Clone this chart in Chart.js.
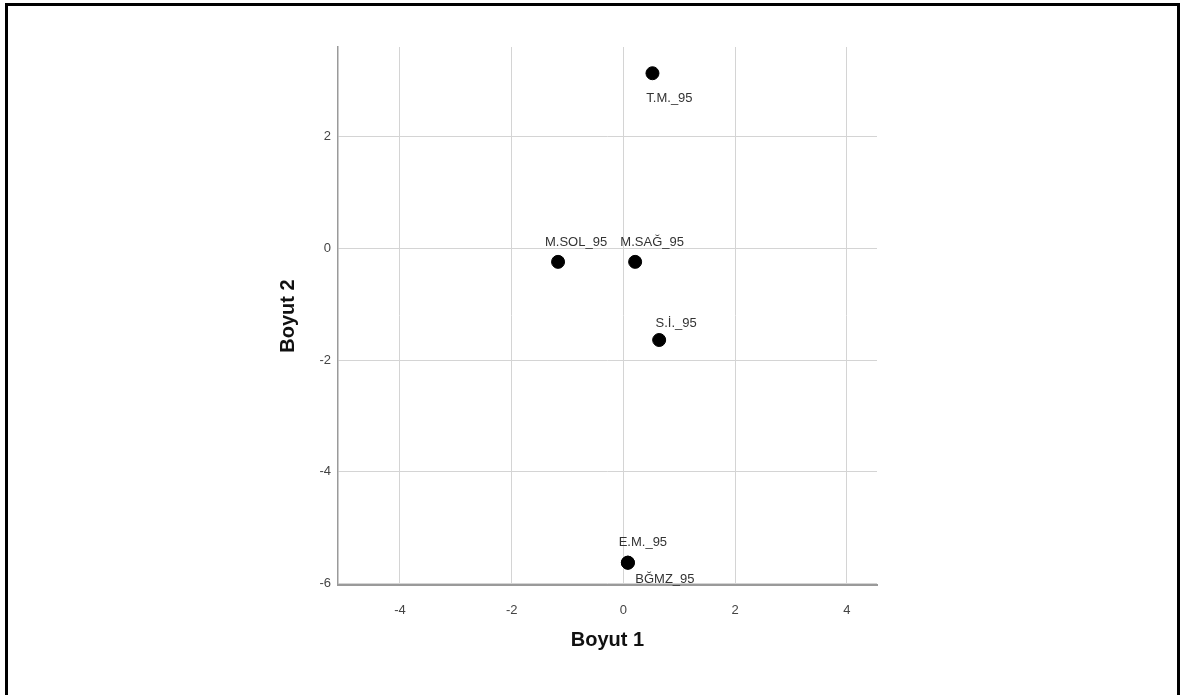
<!DOCTYPE html>
<html>
<head>
<meta charset="utf-8">
<script src="https://cdn.jsdelivr.net/npm/chart.js@4"></script>
<style>
  html, body { margin: 0; padding: 0; background: #fff; }
  #wrap { position: relative; width: 1180px; height: 695px; overflow: hidden; }
  #frame {
    position: absolute; left: 5px; top: 3px; width: 1169px; height: 720px;
    border: 3px solid #000;
  }
  canvas { position: absolute; left: 0; top: 0; }
</style>
</head>
<body>
<div id="wrap">
  <div id="frame"></div>
  <canvas id="c" width="1180" height="695"></canvas>
</div>
<script>
// ===== data =====
const names = ['T.M._95', 'M.SOL_95', 'M.SAĞ_95', 'S.İ._95', 'E.M._95', 'BĞMZ_95'];
const dim1  = [0.52, -1.17, 0.21, 0.64, 0.08, 0.08];
const dim2  = [3.14, -0.24, -0.24, -1.64, -5.63, -5.63];
const xTicks = [-4, -2, 0, 2, 4];
const yTicks = [2, 0, -2, -4, -6];

// label placement relative to the point (px)
const labelOffsets = [[17, 25], [18, -19], [17, -19], [17, -17], [15, -20], [37, 17]];

const pointLabels = {
  id: 'pointLabels',
  afterDatasetsDraw(chart) {
    const ctx = chart.ctx;
    const meta = chart.getDatasetMeta(0);
    ctx.save();
    ctx.font = '13px "Liberation Sans", Arial, sans-serif';
    ctx.fillStyle = '#333';
    ctx.textAlign = 'center';
    ctx.textBaseline = 'middle';
    meta.data.forEach((pt, i) => {
      const [dx, dy] = labelOffsets[i];
      ctx.fillText(names[i], pt.x + dx, pt.y + dy);
    });
    ctx.restore();
  }
};

new Chart(document.getElementById('c'), {
  type: 'scatter',
  data: {
    datasets: [{
      data: dim1.map((x, i) => ({ x, y: dim2[i] })),
      backgroundColor: '#000',
      borderColor: '#000',
      pointRadius: 6.5,
      pointHoverRadius: 6.5
    }]
  },
  options: {
    responsive: false,
    animation: false,
    layout: { padding: { left: 0, top: 47, right: 303, bottom: 0 } },
    plugins: { legend: { display: false }, tooltip: { enabled: false } },
    scales: {
      x: {
        type: 'linear',
        min: -5.11, max: 4.54,
        afterBuildTicks: s => { s.ticks = xTicks.map(v => ({ value: v })); },
        afterFit: s => { s.height = 110; },
        grid: { color: '#d4d4d4', lineWidth: 1, drawTicks: false },
        border: { color: '#9a9a9a', width: 2 },
        ticks: {
          padding: 18,
          color: '#444',
          font: { family: '"Liberation Sans", Arial, sans-serif', size: 13 }
        },
        title: {
          display: true, text: 'Boyut 1', color: '#111',
          font: { family: '"Liberation Sans", Arial, sans-serif', size: 20, weight: 'bold' },
          padding: { top: 0, bottom: 43 }
        }
      },
      y: {
        type: 'linear',
        min: -6.03, max: 3.61,
        afterBuildTicks: s => { s.ticks = yTicks.map(v => ({ value: v })); },
        afterFit: s => { s.width = 338; },
        grid: { color: '#d4d4d4', lineWidth: 1, drawTicks: false },
        border: { color: '#9a9a9a', width: 1.5 },
        ticks: {
          padding: 7,
          color: '#444',
          font: { family: '"Liberation Sans", Arial, sans-serif', size: 13 }
        },
        title: {
          display: true, text: 'Boyut 2', color: '#111',
          font: { family: '"Liberation Sans", Arial, sans-serif', size: 20, weight: 'bold' },
          padding: { top: 276, bottom: 0 }
        }
      }
    }
  },
  plugins: [pointLabels]
});
</script>
</body>
</html>
